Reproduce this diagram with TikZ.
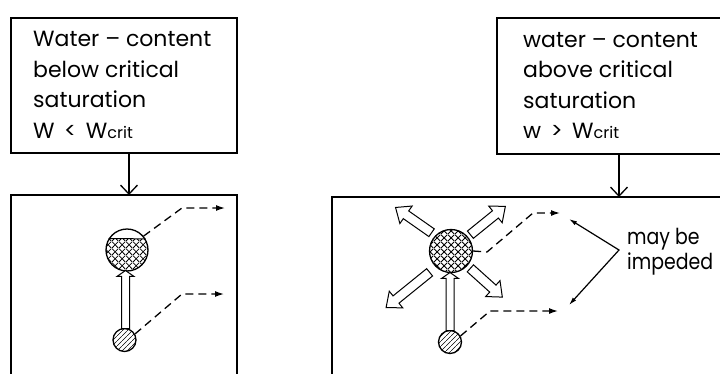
\documentclass[tikz,border=0pt]{standalone}
\usepackage{fontspec}
\setmainfont{Poppins}
\newfontfamily\narrowfont{Poppins}[FakeStretch=0.86]
\usetikzlibrary{arrows.meta,patterns,patterns.meta,shapes.arrows}
\tikzdeclarepattern{
  name=xhatch,
  bounding box={(0pt,0pt) and (7pt,7pt)},
  tile size={(7pt,7pt)},
  code={
    \draw[line width=0.8pt] (0pt,0pt) -- (7pt,7pt);
    \draw[line width=0.8pt] (0pt,7pt) -- (7pt,0pt);
  }
}
\tikzdeclarepattern{
  name=slhatch,
  bounding box={(0pt,0pt) and (4.5pt,4.5pt)},
  tile size={(4.5pt,4.5pt)},
  code={
    \draw[line width=0.75pt] (-0.5pt,-0.5pt) -- (5pt,5pt);
  }
}
\begin{document}
\begin{tikzpicture}[x=1pt,y=-1pt,
  frame/.style={draw,line width=1.5pt},
  conn/.style={line width=1.3pt,-{Straight Barb[length=9pt,width=17pt,line width=1.3pt]}},
  dashline/.style={line width=1.3pt,dash pattern=on 8pt off 5pt,-{Latex[length=9pt,width=6pt]}},
  hollow/.style={single arrow,draw,line width=1pt,fill=white,inner xsep=0pt,inner ysep=4.2pt,
    minimum width=0pt,single arrow head extend=6pt,single arrow tip angle=80,anchor=tail,minimum height=#1},
  hollowv/.style={single arrow,draw,line width=1pt,fill=white,inner xsep=0pt,inner ysep=3.5pt,
    minimum width=0pt,single arrow head extend=4.5pt,single arrow tip angle=110,anchor=tail,minimum height=#1},
  lbl/.style={font=\fontsize{22}{30.5}\selectfont,align=left,inner sep=0pt,anchor=north west},
  ball/.style={circle,draw,line width=1.3pt,inner sep=0pt,minimum size=#1},
]
\useasboundingbox (0,0) rectangle (720,373);
\clip (0,0) rectangle (720,373);
\fill[white] (0,0) rectangle (720,373);

% ---------- left column ----------
\node[frame,anchor=north west,minimum width=226pt,minimum height=135pt,inner sep=0pt] (topL) at (10,17) {};
\node[lbl] (txtL) at (33,31) {Water – content\\below critical\\saturation\\W \,<\, W{\fontsize{16}{16}\selectfont crit}};
\coordinate (inL) at (129,195);
\draw[frame] (11,380) |- (237,195) -- (237,380);
\draw[conn] (topL.south -| inL) -- (inL);

\begin{scope}
  \clip (90,239) rectangle (170,290);
  \fill[pattern=xhatch] (127,250) circle (21);
\end{scope}
\node[ball=42pt] (C1) at (127,250) {};
\draw[line width=1pt] (C1.148.4) -- (C1.31.6);
\node[ball=23pt,pattern=slhatch] (S1) at (124.5,340) {};
\node[hollowv=58pt,rotate=90] (up1) at (125.5,329) {};

\coordinate (d1) at (225,208);
\coordinate (d2) at (224,294);
\draw[dashline] (C1.40) -- (182,208) -- (d1);
\draw[dashline] (S1.30) -- (182,294) -- (d2);

% ---------- right column ----------
\node[frame,anchor=north west,minimum width=260pt,minimum height=136pt,inner sep=0pt] (topR) at (496,17) {};
\node[lbl] (txtR) at (523,32) {water – content\\above critical\\saturation\\w \,>\, W{\fontsize{16}{16}\selectfont crit}};
\coordinate (inR) at (619,197);
\draw[frame] (332,380) |- (740,197);
\draw[conn] (topR.south -| inR) -- (inR);

\node[ball=43pt,pattern=xhatch] (C2) at (451,251) {};
\node[ball=23pt,pattern=slhatch] (S2) at (450,342) {};
\node[hollowv=58pt,rotate=90] (up2) at (450,331) {};

\node[hollow=44pt,rotate=145] (nw) at (432,233) {};
\node[hollow=45pt,rotate=39] (ne) at (470,235) {};
\node[hollow=56pt,rotate=219] (sw) at (430,272) {};
\node[hollow=43pt,rotate=-42] (se) at (470,268) {};

\coordinate (d3) at (560,213);
\coordinate (d4) at (558,311);
\draw[dashline] (C2.east) -- (487,252) -- (533,213) -- (d3);
\draw[dashline] (S2.30) -- (490,311) -- (d4);

\coordinate (v) at (619,250);
\coordinate (e1) at (569,219);
\coordinate (e2) at (569,305);
\draw[line width=1.2pt,{Latex[length=8pt,width=4.5pt]}-{Latex[length=8pt,width=4.5pt]}] (e1) -- (v) -- (e2);
\node[font=\narrowfont\fontsize{22}{25}\selectfont,align=left,inner sep=0pt,anchor=west] (imp) at (627,252) {may be\\impeded};
\end{tikzpicture}
\end{document}
